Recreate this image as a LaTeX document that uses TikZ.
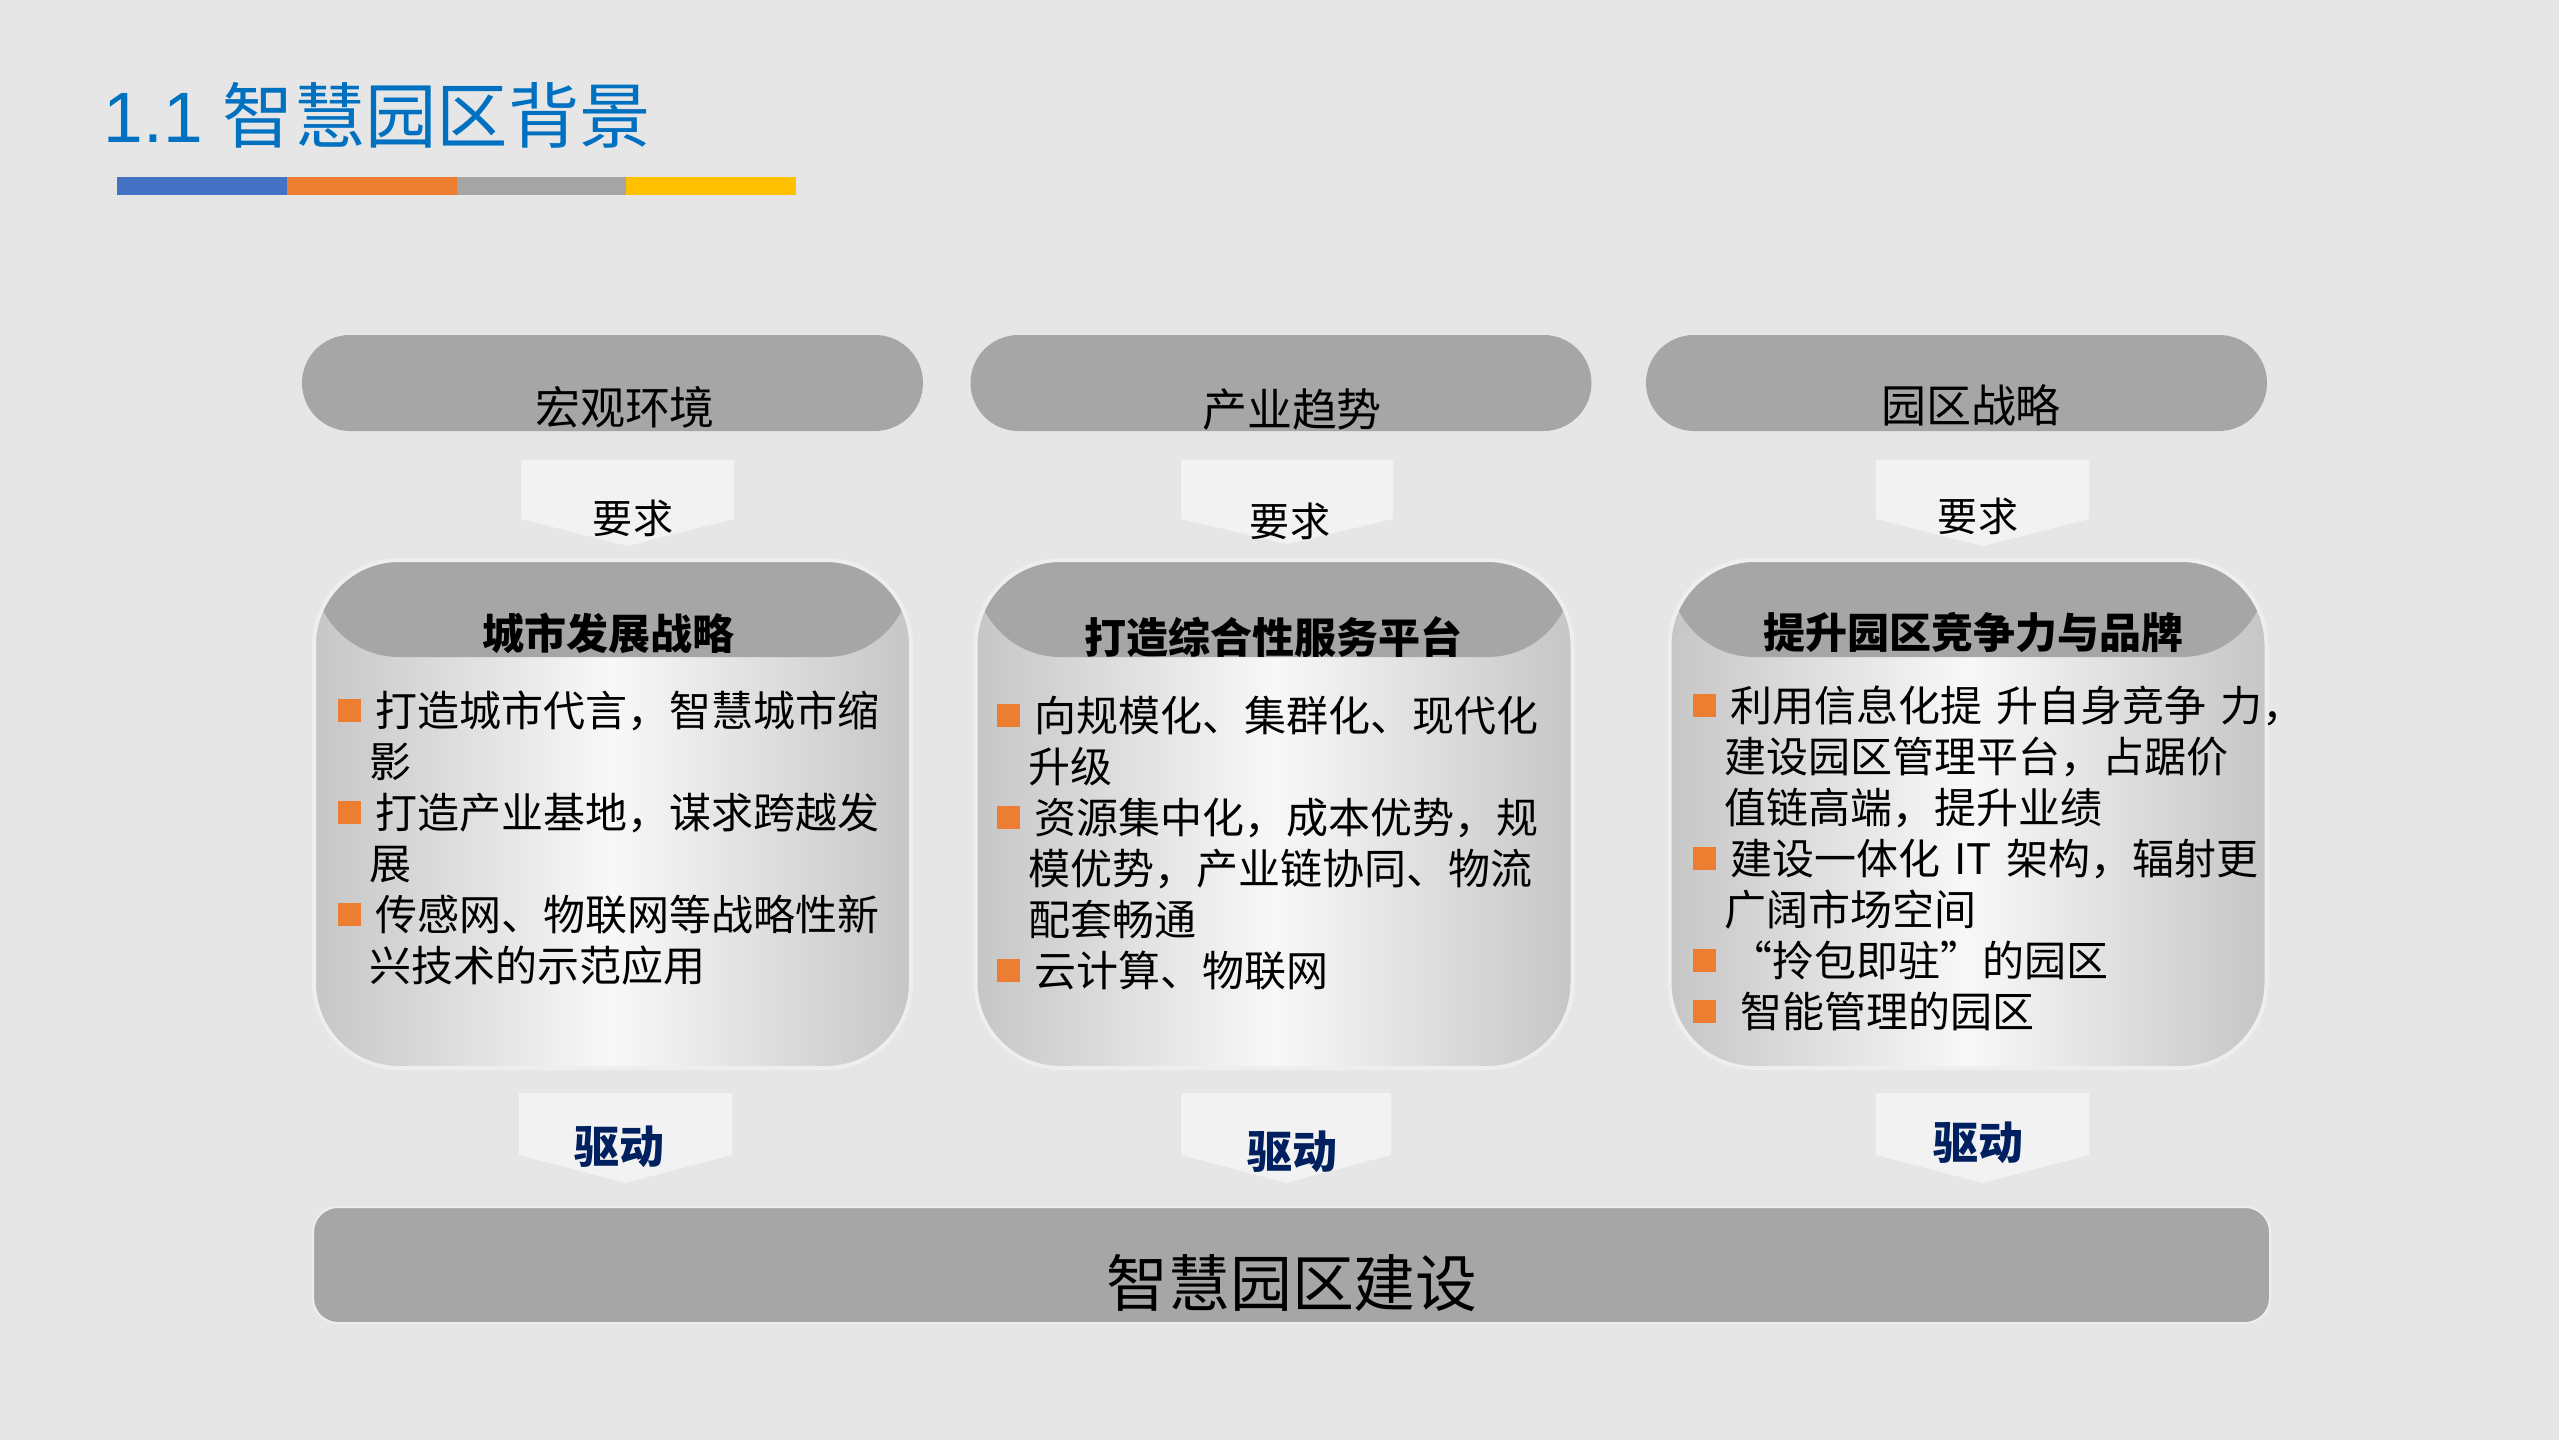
\documentclass[tikz,border=0pt]{standalone}
\usepackage{fontspec}
\setmainfont{Noto Sans CJK SC}
\newfontfamily\latinsans{Liberation Sans}
\usetikzlibrary{positioning}

\definecolor{pagebg}{HTML}{E7E6E6}
\definecolor{titleblue}{HTML}{0070C0}
\definecolor{barblue}{HTML}{4472C4}
\definecolor{barorange}{HTML}{ED7D31}
\definecolor{bargray}{HTML}{A5A5A5}
\definecolor{bargold}{HTML}{FFC000}
\definecolor{headgray}{HTML}{A6A6A6}
\definecolor{arrowfill}{HTML}{F2F2F2}
\definecolor{drivenavy}{HTML}{002060}
\definecolor{halo}{HTML}{EEEEEE}
\definecolor{edgegray}{HTML}{C6C6C6}
\definecolor{shine}{HTML}{F8F8F8}

\newcommand{\bsq}{\textcolor{barorange}{\rule[0.045cm]{0.23cm}{0.23cm}}\hspace{0.15cm}}
\newcommand{\hangin}{\hspace*{0.32cm}}
\newcommand{\firststrut}{\rule{0pt}{0.4cm}}

\begin{document}
\begin{tikzpicture}[
    pill/.style={rectangle, fill=headgray, rounded corners=0.48cm, minimum width=6.21cm, minimum height=0.96cm, inner sep=0pt},
    pilltext/.style={inner sep=0pt, font=\fontsize{12.8}{15}\selectfont},
    reqtext/.style={inner sep=0pt, font=\fontsize{11.4}{13}\selectfont},
    drivetext/.style={inner sep=0pt, text=drivenavy, font=\fontsize{12.8}{15}\selectfont\bfseries},
    infobox/.style={rectangle, draw=halo, line width=0.04cm, rounded corners=0.85cm, minimum width=5.97cm, minimum height=5.08cm, inner sep=0pt,
      left color=edgegray, right color=edgegray, middle color=shine,
      path picture={\fill[headgray] (path picture bounding box.north west) rectangle ([yshift=-0.97cm]path picture bounding box.north east);}},
    headtext/.style={inner sep=0pt, font=\fontsize{11.95}{14}\selectfont\bfseries},
    bullets/.style={anchor=north west, inner sep=0pt, text width=6.4cm, align=left, font=\fontsize{11.95}{14.51}\selectfont}]

  \useasboundingbox (0,0) rectangle (25.59,-14.40);
  \fill[pagebg] (0,0) rectangle (25.59,-14.40);

  % title and colour bar
  \node[anchor=base west, inner sep=0pt, text=titleblue, font=\fontsize{20.3}{23}\selectfont] (title) at (1.03,-1.42) {{\latinsans 1.1 }智慧园区背景};
  \fill[barblue] (1.17,-1.77) rectangle (2.87,-1.95);
  \fill[barorange] (2.87,-1.77) rectangle (4.57,-1.95);
  \fill[bargray] (4.57,-1.77) rectangle (6.26,-1.95);
  \fill[bargold] (6.26,-1.77) rectangle (7.96,-1.95);

  % top row
  \node[pill] (macro) at (6.125,-3.83) {};
  \node[pilltext] (macrot) at (6.25,-4.07) {宏观环境};
  \node[pill] (trend) at (12.81,-3.83) {};
  \node[pilltext] (trendt) at (12.92,-4.10) {产业趋势};
  \node[pill] (plan) at (19.565,-3.83) {};
  \node[pilltext] (plant) at (19.71,-4.05) {园区战略};

  % "require" arrows
  \fill[arrowfill] (5.21,-4.60) -- (7.34,-4.60) -- (7.34,-5.19) -- (6.275,-5.46) -- (5.21,-5.19) -- cycle;
  \node[reqtext] (req1) at (6.33,-5.18) {要求};
  \fill[arrowfill] (11.81,-4.60) -- (13.93,-4.60) -- (13.93,-5.19) -- (12.87,-5.44) -- (11.81,-5.19) -- cycle;
  \node[reqtext] (req2) at (12.90,-5.21) {要求};
  \fill[arrowfill] (18.76,-4.60) -- (20.89,-4.60) -- (20.89,-5.19) -- (19.825,-5.46) -- (18.76,-5.19) -- cycle;
  \node[reqtext] (req3) at (19.78,-5.16) {要求};

  % middle boxes
  \node[infobox] (city) at (6.125,-8.14) {};
  \node[headtext] (cityt) at (6.08,-6.33) {城市发展战略};
  \node[bullets] (cityl) at (3.37,-6.86) {\firststrut\bsq 打造城市代言，智慧城市缩\\
    \hangin 影\\
    \bsq 打造产业基地，谋求跨越发\\
    \hangin 展\\
    \bsq 传感网、物联网等战略性新\\
    \hangin 兴技术的示范应用};

  \node[infobox] (service) at (12.74,-8.14) {};
  \node[headtext] (servicet) at (12.73,-6.37) {打造综合性服务平台};
  \node[bullets] (servicel) at (9.96,-6.91) {\firststrut\bsq 向规模化、集群化、现代化\\
    \hangin 升级\\
    \bsq 资源集中化，成本优势，规\\
    \hangin 模优势，产业链协同、物流\\
    \hangin 配套畅通\\
    \bsq 云计算、物联网};

  \node[infobox] (brand) at (19.68,-8.14) {};
  \node[headtext] (brandt) at (19.73,-6.33) {提升园区竞争力与品牌};
  \node[bullets] (brandl) at (16.92,-6.81) {\firststrut\bsq 利用信息化提 升自身竞争 力，\\
    \hangin 建设园区管理平台，占踞价\\
    \hangin 值链高端，提升业绩\\
    \bsq 建设一体化 IT 架构，辐射更\\
    \hangin 广阔市场空间\\
    \bsq “拎包即驻”的园区\\
    \bsq \hspace{0.1cm}智能管理的园区};

  % "drive" arrows
  \fill[arrowfill] (5.19,-10.93) -- (7.32,-10.93) -- (7.32,-11.55) -- (6.255,-11.83) -- (5.19,-11.55) -- cycle;
  \node[drivetext] (drive1) at (6.19,-11.47) {驱动};
  \fill[arrowfill] (11.81,-10.93) -- (13.91,-10.93) -- (13.91,-11.55) -- (12.86,-11.83) -- (11.81,-11.55) -- cycle;
  \node[drivetext] (drive2) at (12.92,-11.52) {驱动};
  \fill[arrowfill] (18.76,-10.93) -- (20.89,-10.93) -- (20.89,-11.55) -- (19.825,-11.83) -- (18.76,-11.55) -- cycle;
  \node[drivetext] (drive3) at (19.78,-11.43) {驱动};

  % bottom bar
  \node[rectangle, fill=headgray, draw=halo, line width=0.02cm, rounded corners=0.25cm, minimum width=19.57cm, minimum height=1.16cm] (build) at (12.915,-12.65) {};
  \node[inner sep=0pt, font=\fontsize{17.6}{20}\selectfont] (buildt) at (12.92,-12.83) {智慧园区建设};
\end{tikzpicture}
\end{document}
